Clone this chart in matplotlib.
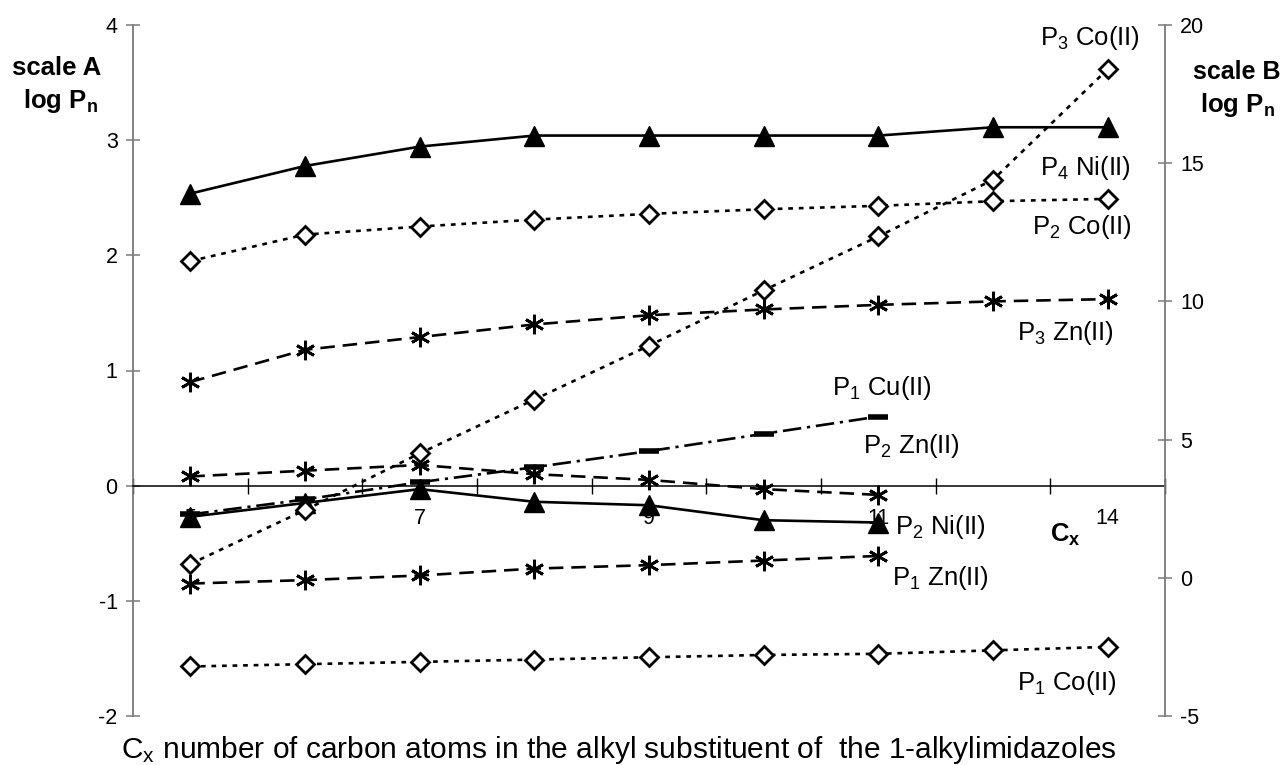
import matplotlib
matplotlib.use('Agg')
import matplotlib.pyplot as plt
import numpy as np

plt.rcParams['font.family'] = ['Liberation Sans', 'DejaVu Sans']
plt.rcParams['mathtext.fontset'] = 'custom'
plt.rcParams['mathtext.rm'] = 'Liberation Sans'
plt.rcParams['mathtext.it'] = 'Liberation Sans:italic'
plt.rcParams['mathtext.bf'] = 'Liberation Sans:bold'
plt.rcParams['axes.unicode_minus'] = False

# ---------------- data ----------------
carbons = ['5', '6', '7', '8', '9', '10', '11', '12', '14']
tick_labels = ['5', '', '7', '', '9', '', '11', '', '14']

# scale B (right axis)
p4_ni = [13.9, 14.9, 15.6, 16.0, 16.0, 16.0, 16.0, 16.3, 16.3]
p3_co = [0.5, 2.45, 4.5, 6.45, 8.4, 10.4, 12.35, 14.4, 18.4]
# scale A (left axis)
p2_co = [1.95, 2.18, 2.25, 2.31, 2.36, 2.40, 2.43, 2.47, 2.49]
p3_zn = [0.90, 1.18, 1.29, 1.40, 1.48, 1.53, 1.57, 1.60, 1.62]
p1_cu = [-0.25, -0.12, 0.03, 0.16, 0.30, 0.45, 0.60]
p2_zn = [0.08, 0.13, 0.18, 0.10, 0.05, -0.03, -0.08]
p2_ni = [-0.27, -0.15, -0.03, -0.14, -0.17, -0.30, -0.32]
p1_zn = [-0.85, -0.82, -0.78, -0.72, -0.69, -0.65, -0.61]
p1_co = [-1.57, -1.55, -1.53, -1.51, -1.49, -1.47, -1.46, -1.43, -1.40]

# ---------------- figure ----------------
W, H = 1287, 765
DPI = 100
fig = plt.figure(figsize=(W / DPI, H / DPI), dpi=DPI)

def fx(x):
    return x / W

def fy(y):
    return 1 - y / H

L, R, T, B = 133, 1165, 25, 716
ax = fig.add_axes([fx(L), fy(B), (R - L) / W, (B - T) / H])
ax2 = ax.twinx()

xpos = np.arange(len(carbons))

def xs(vals):
    return xpos[:len(vals)]

LW = 1.9
tri = dict(color='black', lw=LW, ls='-', marker='^', ms=14, mfc='black', mec='black', zorder=4)
dia = dict(color='black', lw=LW, ls=(0, (1.8, 2.2)), marker='D', ms=9, mfc='white', mec='black', mew=2.0, zorder=4)
ast = dict(color='black', lw=LW, ls=(0, (5.5, 3.0)), marker=(6, 2, 0), ms=14, mec='black', mew=2.0, zorder=4)
cu = dict(color='black', lw=LW, ls=(0, (7, 2.2, 1.2, 2.2)), marker='_', ms=14, mec='black', mew=4.0, zorder=4)

ax.plot(xs(p1_co), p1_co, **dia)
ax.plot(xs(p2_co), p2_co, **dia)
ax.plot(xs(p1_zn), p1_zn, **ast)
ax.plot(xs(p2_zn), p2_zn, **ast)
ax.plot(xs(p3_zn), p3_zn, **ast)
ax.plot(xs(p1_cu), p1_cu, **cu)
ax.plot(xs(p2_ni), p2_ni, **tri)

ax2.plot(xs(p3_co), p3_co, **dia)
ax2.plot(xs(p4_ni), p4_ni, **tri)

# ---------------- axes styling ----------------
ax.set_xlim(-0.5, len(carbons) - 0.5)
ax.set_ylim(-2, 4)
ax2.set_ylim(-5, 20)
ax.set_yticks(np.arange(-2, 5, 1))
ax2.set_yticks(np.arange(-5, 21, 5))

spine_col = '#7a7a7a'
for a in (ax, ax2):
    a.spines['top'].set_visible(False)
    a.spines['left'].set_color(spine_col)
    a.spines['right'].set_color(spine_col)
    a.spines['left'].set_linewidth(1.3)
    a.spines['right'].set_linewidth(1.3)
ax2.spines['bottom'].set_visible(False)
ax.spines['right'].set_visible(False)
ax2.spines['left'].set_visible(False)

ax.spines['bottom'].set_position(('data', 0))
ax.spines['bottom'].set_color('black')
ax.spines['bottom'].set_linewidth(1.1)

ax.tick_params(axis='y', direction='inout', length=10, width=1.1, color=spine_col,
               labelsize=15.5, pad=6)
ax2.tick_params(axis='y', direction='inout', length=10, width=1.1, color=spine_col,
                labelsize=15.5, pad=6)

ax.set_xticks(np.arange(-0.5, len(carbons), 1.0))
ax.set_xticklabels([])
ax.tick_params(axis='x', which='major', direction='inout', length=11, width=1.0, color='black')
ax.set_xticks(xpos, minor=True)
ax.set_xticklabels(tick_labels, minor=True)
ax.tick_params(axis='x', which='minor', length=0, labelsize=15.5, pad=16)
ax.set_zorder(1)
ax2.set_zorder(2)
ax.patch.set_visible(False)

# ---------------- texts ----------------
fig.text(fx(57), fy(68), 'scale A', ha='center', va='center', fontsize=18.5, fontweight='bold')
fig.text(fx(61), fy(101), r'$\mathbf{log\ P_n}$', ha='center', va='center', fontsize=18.5)
fig.text(fx(1237), fy(72), 'scale B', ha='center', va='center', fontsize=18, fontweight='bold')
fig.text(fx(1238), fy(105), r'$\mathbf{log\ P_n}$', ha='center', va='center', fontsize=18.5)

FS = 18.5
fig.text(fx(1140), fy(38), r'P$_3$ Co(II)', ha='right', va='center', fontsize=FS)
fig.text(fx(1131), fy(168), r'P$_4$ Ni(II)', ha='right', va='center', fontsize=FS)
fig.text(fx(1132), fy(227), r'P$_2$ Co(II)', ha='right', va='center', fontsize=FS)
fig.text(fx(1114), fy(333), r'P$_3$ Zn(II)', ha='right', va='center', fontsize=FS)
fig.text(fx(932), fy(388), r'P$_1$ Cu(II)', ha='right', va='center', fontsize=FS)
fig.text(fx(863), fy(446), r'P$_2$ Zn(II)', ha='left', va='center', fontsize=FS)
fig.text(fx(895), fy(527), r'P$_2$ Ni(II)', ha='left', va='center', fontsize=FS)
fig.text(fx(892), fy(578), r'P$_1$ Zn(II)', ha='left', va='center', fontsize=FS)
fig.text(fx(1117), fy(683), r'P$_1$ Co(II)', ha='right', va='center', fontsize=FS)
fig.text(fx(1050), fy(535), r'$\mathbf{C_x}$', ha='left', va='center', fontsize=18.5)

fig.text(fx(619), fy(750),
         r'C$_\mathrm{x}$ number of carbon atoms in the alkyl substituent of  the 1-alkylimidazoles',
         ha='center', va='center', fontsize=21.5)

fig.savefig('out.png', dpi=DPI)
